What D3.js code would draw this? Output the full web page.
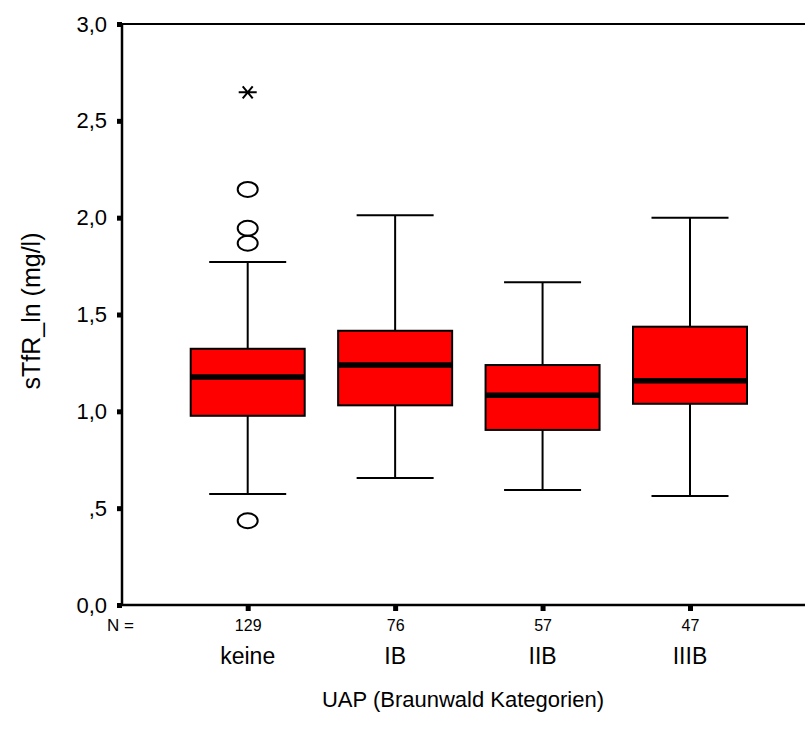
<!DOCTYPE html>
<html>
<head>
<meta charset="utf-8">
<script src="https://cdn.jsdelivr.net/npm/d3@7"></script>
<style>
  body { margin: 0; background: #fff; }
  svg { font-family: Arial, 'Liberation Sans', sans-serif; }
</style>
</head>
<body>
<div id="chart"></div>
<script>
const Width = 805
const Height = 742

// values
const categories = ['keine', 'IB', 'IIB', 'IIIB']
const counts = [129, 76, 57, 47]
const whiskerLow = [0.573, 0.656, 0.594, 0.563]
const q1 = [0.977, 1.031, 0.904, 1.039]
const medians = [1.177, 1.239, 1.083, 1.158]
const q3 = [1.323, 1.416, 1.239, 1.437]
const whiskerHigh = [1.771, 2.012, 1.666, 2.0]
const outlierCats = ['keine', 'keine', 'keine', 'keine']
const outlierValues = [2.146, 1.945, 1.868, 0.435]
const extremeCats = ['keine']
const extremeValues = [2.647]
const yTicks = [0, 0.5, 1, 1.5, 2, 2.5, 3]
const yTickLabels = ['0,0', ',5', '1,0', '1,5', '2,0', '2,5', '3,0']

const plotLeft = 122, plotTop = 24, plotBottom = 605
const boxW = 114, capW = 77

const svg = d3.select('#chart')
    .append('svg')
    .attr('width', Width)
    .attr('height', Height)

const y = d3.scaleLinear()
    .domain([0, 3])
    .range([plotBottom, plotTop])

const x = d3.scalePoint()
    .domain(categories)
    .range([247.7, 690])

const boxes = categories.map((c, i) => ({
    cat: c, lo: whiskerLow[i], q1: q1[i], med: medians[i], q3: q3[i], hi: whiskerHigh[i]
}))

// frame lines
svg.append('line')
    .attr('x1', plotLeft).attr('x2', Width)
    .attr('y1', plotTop).attr('y2', plotTop)
    .attr('stroke', '#000').attr('stroke-width', 2)
svg.append('line')
    .attr('x1', plotLeft).attr('x2', Width)
    .attr('y1', plotBottom).attr('y2', plotBottom)
    .attr('stroke', '#000').attr('stroke-width', 2.5)
svg.append('line')
    .attr('x1', plotLeft).attr('x2', plotLeft)
    .attr('y1', plotTop - 1).attr('y2', plotBottom + 1)
    .attr('stroke', '#000').attr('stroke-width', 2.5)

// y axis
const yAxis = svg.append('g')
    .attr('transform', `translate(${plotLeft},0)`)
    .call(d3.axisLeft(y)
        .tickValues(yTicks)
        .tickFormat((d, i) => yTickLabels[i])
        .tickSize(5)
        .tickSizeOuter(0)
        .tickPadding(10))
yAxis.select('.domain').remove()
yAxis.selectAll('.tick line').attr('stroke-width', 5)
yAxis.selectAll('.tick text')
    .attr('font-size', 22)
    .attr('font-family', 'Arial, Liberation Sans, sans-serif')
    .attr('fill', '#000')

// x axis with N counts
const xAxis = svg.append('g')
    .attr('transform', `translate(0,${plotBottom})`)
    .call(d3.axisBottom(x)
        .tickFormat((d, i) => counts[i])
        .tickSize(6)
        .tickSizeOuter(0)
        .tickPadding(9))
xAxis.select('.domain').remove()
xAxis.selectAll('.tick line').attr('stroke-width', 5)
xAxis.selectAll('.tick text')
    .attr('font-size', 16)
    .attr('font-family', 'Arial, Liberation Sans, sans-serif')
    .attr('fill', '#000')

svg.append('text')
    .attr('x', 107).attr('y', 631)
    .attr('font-size', 17)
    .text('N =')

// category labels
svg.selectAll('.cat')
    .data(categories)
    .enter().append('text')
    .attr('class', 'cat')
    .attr('x', d => x(d))
    .attr('y', 664)
    .attr('text-anchor', 'middle')
    .attr('font-size', 23)
    .text(d => d)

// whiskers
const g = svg.append('g')
g.selectAll('.whisker')
    .data(boxes)
    .enter().append('line')
    .attr('x1', d => x(d.cat)).attr('x2', d => x(d.cat))
    .attr('y1', d => y(d.lo)).attr('y2', d => y(d.hi))
    .attr('stroke', '#000').attr('stroke-width', 2)
g.selectAll('.capLo')
    .data(boxes)
    .enter().append('line')
    .attr('x1', d => x(d.cat) - capW / 2).attr('x2', d => x(d.cat) + capW / 2)
    .attr('y1', d => y(d.lo)).attr('y2', d => y(d.lo))
    .attr('stroke', '#000').attr('stroke-width', 2)
g.selectAll('.capHi')
    .data(boxes)
    .enter().append('line')
    .attr('x1', d => x(d.cat) - capW / 2).attr('x2', d => x(d.cat) + capW / 2)
    .attr('y1', d => y(d.hi)).attr('y2', d => y(d.hi))
    .attr('stroke', '#000').attr('stroke-width', 2)

// boxes
g.selectAll('.box')
    .data(boxes)
    .enter().append('rect')
    .attr('x', d => x(d.cat) - boxW / 2)
    .attr('width', boxW)
    .attr('y', d => y(d.q3))
    .attr('height', d => y(d.q1) - y(d.q3))
    .attr('fill', '#ff0000')
    .attr('stroke', '#000')
    .attr('stroke-width', 2)

g.selectAll('.median')
    .data(boxes)
    .enter().append('line')
    .attr('x1', d => x(d.cat) - boxW / 2).attr('x2', d => x(d.cat) + boxW / 2)
    .attr('y1', d => y(d.med)).attr('y2', d => y(d.med))
    .attr('stroke', '#000').attr('stroke-width', 5.5)

// outliers (circles)
g.selectAll('.outlier')
    .data(outlierValues)
    .enter().append('ellipse')
    .attr('cx', (d, i) => x(outlierCats[i]))
    .attr('cy', d => y(d))
    .attr('rx', 10)
    .attr('ry', 7.5)
    .attr('fill', 'none')
    .attr('stroke', '#000')
    .attr('stroke-width', 2)

// extremes (stars)
g.selectAll('.extreme')
    .data(extremeValues)
    .enter().append('path')
    .attr('transform', (d, i) => `translate(${x(extremeCats[i])},${y(d)})`)
    .attr('d', 'M-9,0H9M-5,-6L5,6M-5,6L5,-6')
    .attr('fill', 'none')
    .attr('stroke', '#000')
    .attr('stroke-width', 2)

// axis titles
svg.append('text')
    .attr('transform', 'translate(40,311) rotate(-90)')
    .attr('text-anchor', 'middle')
    .attr('font-size', 25)
    .text('sTfR_ln (mg/l)')

svg.append('text')
    .attr('x', 463).attr('y', 707)
    .attr('text-anchor', 'middle')
    .attr('font-size', 22)
    .text('UAP (Braunwald Kategorien)')
</script>
</body>
</html>
